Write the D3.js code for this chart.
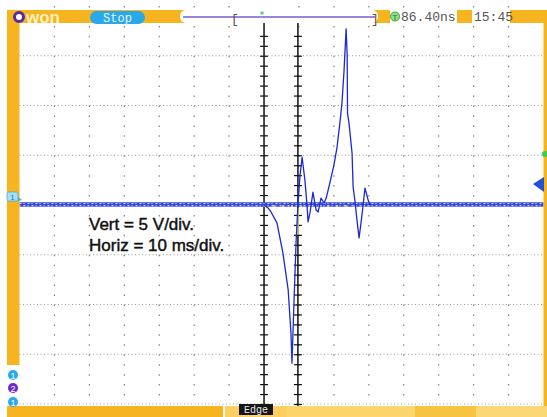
<!DOCTYPE html>
<html>
<head>
<meta charset="utf-8">
<script src="https://cdn.jsdelivr.net/npm/d3@7"></script>
<style>
  html, body { margin: 0; padding: 0; background: #fff; }
  svg { display: block; }
</style>
</head>
<body>
<div class="scope"></div>
<script>
// Trace data (time in ms from the trigger ruler, volts)
const pulseTime  = [0, 1.15, 2.0, 3.7, 5.4, 6.9, 7.7, 8.0, 8.6, 9.2, 9.7, 10.3, 10.9, 11.7, 12.3, 12.6, 13.2, 14.0, 14.9, 15.5, 16.3, 17.2, 17.8, 18.9, 20.0, 20.9, 21.8, 22.3, 22.9, 23.5, 23.8, 23.9, 24.3, 25.2, 25.5, 26.1, 26.6, 27.2, 27.8, 28.3, 28.9, 29.8, 30.3];
const pulseVolts = [0, -0.3, -0.7, -1.8, -4.8, -8.5, -12.8, -15.9, -9.5, -3.5, 0, 3.0, 4.8, 2.5, 0, -1.7, -0.7, 1.3, -0.5, -0.7, 0.7, 0.2, 0.7, 2.3, 4.0, 5.8, 8.5, 10.2, 13.5, 17.7, 15.0, 9.2, 8.3, 5.2, 1.8, 0.2, -1.5, -3.3, -1.7, -0.2, 1.7, 0.5, 0];
const baseTime   = [-70, 80];
const baseVolts  = [0, 0];
const rulerTimes = [0, 9.7];
const gridTimes  = [-60, -50, -40, -30, -20, -10, 10, 20, 30, 40, 50, 60, 70];
const gridVolts  = [15, 10, 5, 0, -5, -10, -15, -20];
const notes      = ["Vert = 5 V/div.", "Horiz = 10 ms/div."];

const W = 547, H = 417;
const svg = d3.select('.scope').append('svg')
  .attr('width', W).attr('height', H);

const x = d3.scaleLinear().domain([-70, 80]).range([19.5, 543.5]);
const y = d3.scaleLinear().domain([-20, 20]).range([404, 6]);

// grid
const grid = svg.append('g');
grid.selectAll('.row').data(gridVolts).enter().append('line')
  .attr('x1', x(-70)).attr('x2', x(80))
  .attr('y1', d => y(d)).attr('y2', d => y(d))
  .attr('stroke', '#9a9a9a').attr('stroke-width', 1)
  .attr('stroke-dasharray', '1 2.5');
grid.selectAll('.col').data(gridTimes).enter().append('line')
  .attr('x1', d => x(d)).attr('x2', d => x(d))
  .attr('y1', y(20)).attr('y2', y(-20))
  .attr('stroke', '#808080').attr('stroke-width', 1.2)
  .attr('stroke-dasharray', '1.5 8.45');

// rulers with ticks every volt
rulerTimes.forEach(t => {
  const g = svg.append('g').attr('transform', `translate(${x(t) + 4},0)`);
  g.call(d3.axisLeft(y).tickValues(d3.range(-20, 18)).tickSize(8).tickFormat(''));
  g.select('.domain').remove();
  g.selectAll('.tick line').attr('stroke', '#111').attr('stroke-width', 1.2);
  svg.append('line')
    .attr('x1', x(t)).attr('x2', x(t))
    .attr('y1', 22).attr('y2', t === 0 ? 406 : 414)
    .attr('stroke', '#111').attr('stroke-width', 1.5);
});

// noisy baseline band
const line = d3.line().x(d => x(d[0])).y(d => y(d[1]));
const base = d3.zip(baseTime, baseVolts);
svg.append('path').datum(base).attr('d', line)
  .attr('fill', 'none').attr('stroke', '#3447dc').attr('stroke-width', 4.5)
  .attr('transform', 'translate(0,-0.5)');
svg.append('path').datum(base).attr('d', line)
  .attr('fill', 'none').attr('stroke', '#d6dcff').attr('stroke-width', 1)
  .attr('stroke-dasharray', '2 2 1 3')
  .attr('transform', 'translate(0,-1.5)');
svg.append('path').datum(base).attr('d', line)
  .attr('fill', 'none').attr('stroke', '#ffffff').attr('stroke-width', 1)
  .attr('stroke-dasharray', '1 3 2 2')
  .attr('transform', 'translate(0,0.8)');

// yellow trigger marks
svg.append('line')
  .attr('x1', x(0)).attr('x2', x(31)).attr('y1', y(0) + 1).attr('y2', y(0) + 1)
  .attr('stroke', '#f2e23a').attr('stroke-width', 1.5).attr('stroke-dasharray', '2 7');
svg.append('line')
  .attr('x1', x(rulerTimes[1])).attr('x2', x(rulerTimes[1]))
  .attr('y1', y(-0.3)).attr('y2', y(-3))
  .attr('stroke', '#f2e23a').attr('stroke-width', 1.6);

// pulse
svg.append('path').datum(d3.zip(pulseTime, pulseVolts)).attr('d', line)
  .attr('fill', 'none').attr('stroke', '#1c28d4').attr('stroke-width', 1.3)
  .attr('stroke-linejoin', 'round');

// annotations
svg.selectAll('.note').data(notes).enter().append('text')
  .attr('x', 89).attr('y', (d, i) => 230 + i * 21)
  .attr('font-family', 'Liberation Sans, Arial, sans-serif')
  .attr('font-size', 17).attr('fill', '#111')
  .attr('stroke', '#111').attr('stroke-width', 0.45)
  .text(d => d);

// frame: top / left / right / bottom bars
const orange = '#f6b51e';
svg.append('rect').attr('x', 7).attr('y', 10).attr('width', 540).attr('height', 13).attr('fill', orange);
svg.append('rect').attr('x', 7).attr('y', 10).attr('width', 12.5).attr('height', 355).attr('fill', orange);
svg.append('rect').attr('x', 543.5).attr('y', 10).attr('width', 4).attr('height', 396).attr('fill', orange);

const bottom = [[7, 223, '#f6b51e'], [225, 287, '#fbd060'], [287, 415, '#fcd66c'], [415, 476, '#f8c440'], [476, 547, '#fcd874']];
bottom.forEach(s => svg.append('rect').attr('x', s[0]).attr('y', 406).attr('width', s[1] - s[0]).attr('height', 11).attr('fill', s[2]));
svg.append('rect').attr('x', 239).attr('y', 404).attr('width', 34).attr('height', 11).attr('fill', '#161616');
svg.append('text').attr('x', 256).attr('y', 413).attr('text-anchor', 'middle')
  .attr('font-family', 'Liberation Mono, monospace').attr('font-size', 10)
  .attr('fill', '#e8e8e8').text('Edge');

// logo
svg.append('circle').attr('cx', 19).attr('cy', 17).attr('r', 4.5)
  .attr('fill', '#fff').attr('stroke', '#5b2a9c').attr('stroke-width', 3);
svg.append('text').attr('x', 26).attr('y', 23)
  .attr('font-family', 'Liberation Sans, Arial, sans-serif').attr('font-weight', 'bold')
  .attr('font-size', 17).attr('fill', '#fff0c0').text('won');

// Stop pill
svg.append('rect').attr('x', 90).attr('y', 11).attr('width', 55).attr('height', 13).attr('rx', 6.5)
  .attr('fill', '#2aa9ea');
svg.append('text').attr('x', 117.5).attr('y', 21.5).attr('text-anchor', 'middle')
  .attr('font-family', 'Liberation Mono, monospace').attr('font-size', 12)
  .attr('fill', '#e6f6ff').text('Stop');

// time base window
svg.append('rect').attr('x', 180).attr('y', 10).attr('width', 198).attr('height', 13).attr('rx', 6)
  .attr('fill', '#fff');
svg.append('line').attr('x1', 183).attr('x2', 375).attr('y1', 17).attr('y2', 17)
  .attr('stroke', '#9d84d8').attr('stroke-width', 1.8);
svg.append('text').attr('x', 231).attr('y', 23).attr('font-family', 'Liberation Mono, monospace')
  .attr('font-size', 13).attr('fill', '#555').text('[');
svg.append('text').attr('x', 371).attr('y', 23).attr('font-family', 'Liberation Mono, monospace')
  .attr('font-size', 13).attr('fill', '#555').text(']');
svg.append('circle').attr('cx', 262).attr('cy', 13).attr('r', 1.8).attr('fill', '#5fd38a');

// trigger time + clock
svg.append('rect').attr('x', 390).attr('y', 10).attr('width', 67).attr('height', 13).attr('fill', '#fff');
svg.append('rect').attr('x', 472).attr('y', 10).attr('width', 38).attr('height', 13).attr('fill', '#fff');
svg.append('circle').attr('cx', 395).attr('cy', 16.5).attr('r', 4.5)
  .attr('fill', '#8fe08c').attr('stroke', '#3f9e3f').attr('stroke-width', 1);
svg.append('text').attr('x', 395).attr('y', 19.5).attr('text-anchor', 'middle')
  .attr('font-family', 'Liberation Sans, Arial, sans-serif').attr('font-size', 8)
  .attr('fill', '#2a6a2a').text('T');
svg.append('text').attr('x', 401).attr('y', 21).attr('font-family', 'Liberation Mono, monospace')
  .attr('font-size', 13).attr('fill', '#555').text('86.40ns');
svg.append('text').attr('x', 474).attr('y', 21).attr('font-family', 'Liberation Mono, monospace')
  .attr('font-size', 13).attr('fill', '#555').text('15:45');

// channel markers
svg.append('rect').attr('x', 7).attr('y', 192).attr('width', 11).attr('height', 9).attr('rx', 1.5)
  .attr('fill', '#a6e0f4').attr('stroke', '#49a9dc').attr('stroke-width', 0.8);
svg.append('text').attr('x', 12.5).attr('y', 199.5).attr('text-anchor', 'middle')
  .attr('font-family', 'Liberation Sans, Arial, sans-serif').attr('font-size', 8)
  .attr('fill', '#2376c8').text('1');
svg.append('path').attr('d', 'M18,197 L22,200 L18,201 Z').attr('fill', '#49a9dc');

const chans = [[375, '#2aa9ea', '1'], [388, '#6a2ad0', '2'], [402, '#2aa9ea', '1']];
chans.forEach(c => {
  svg.append('circle').attr('cx', 13).attr('cy', c[0]).attr('r', 5).attr('fill', c[1]);
  svg.append('text').attr('x', 13).attr('y', c[0] + 3.5).attr('text-anchor', 'middle')
    .attr('font-family', 'Liberation Sans, Arial, sans-serif').attr('font-size', 9)
    .attr('fill', '#fff').text(c[2]);
});

// right side markers
svg.append('path').attr('d', 'M533,184 L544,177 L544,192 Z').attr('fill', '#1d4fd8');
svg.append('circle').attr('cx', 545).attr('cy', 154).attr('r', 3).attr('fill', '#3bd04a');
</script>
</body>
</html>
